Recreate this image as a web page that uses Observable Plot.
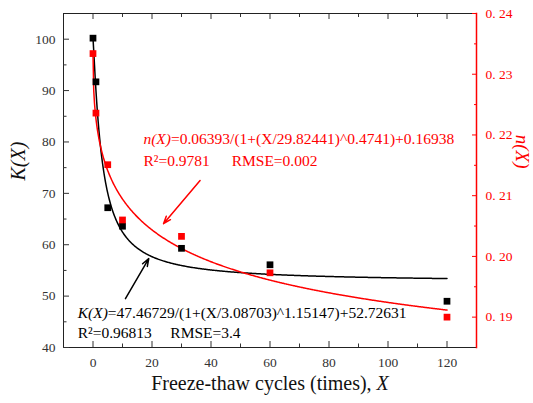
<!DOCTYPE html>
<html><head><meta charset="utf-8">
<script src="https://cdn.jsdelivr.net/npm/d3@7"></script>
<script src="https://cdn.jsdelivr.net/npm/@observablehq/plot@0.6"></script>
<style>
body{margin:0;background:#fff}
svg, svg text, svg g{font-family:"Liberation Serif","Times New Roman",serif !important}
</style>
</head><body><div id="chart"></div>
<script>
// measured points
const cycles  = [0, 1, 5, 10, 30, 60, 120];
const kValues = [100.2, 91.7, 67.2, 63.6, 59.3, 56.1, 49.0];
const nValues = [0.2334, 0.2236, 0.2151, 0.2060, 0.2033, 0.1973, 0.1900];
// fit parameters as printed on the chart: a/(1+(X/b)^c)+d
const kFit = [47.46729, 3.08703, 1.15147, 52.72631];
const nFit = [0.06393, 29.82441, 0.4741, 0.16938];
// axes
const xDomain = [-10, 130];
const kDomain = [40, 105];
const nDomain = [0.185, 0.24];
const xTicks = [0, 20, 40, 60, 80, 100, 120];
const xMinor = [10, 30, 50, 70, 90, 110];
const kTicks = [40, 50, 60, 70, 80, 90, 100];
const kMinor = [45, 55, 65, 75, 85, 95];
const nTicks = [0.19, 0.20, 0.21, 0.22, 0.23, 0.24];
const nMinor = [0.195, 0.205, 0.215, 0.225, 0.235];
// texts
const xLabel = "Freeze-thaw cycles (times), *X*";
const kLabel = "*K(X)*";
const nLabel = "*n(X)*";
const blackNotes = [
  {x: -5.2, y: 45.8, text: "*K(X)*=47.46729/(1+(X/3.08703)^1.15147)+52.72631"},
  {x: -5.2, y: 41.9, text: "R²=0.96813"},
  {x: 26.2, y: 41.9, text: "RMSE=3.4"}
];
const redNotes = [
  {x: 17.1, y: 79.7, text: "*n(X)*=0.06393/(1+(X/29.82441)^0.4741)+0.16938"},
  {x: 17.1, y: 75.4, text: "R²=0.9781"},
  {x: 47.0, y: 75.4, text: "RMSE=0.002"}
];
const blackArrow = [{x1: 11.0, y1: 49.5, x2: 18.9, y2: 57.3}];
const redArrow = [{x1: 36.3, y1: 72.5, x2: 23.9, y2: 64.1}];

const nToK = d3.scaleLinear(nDomain, kDomain);
const points = cycles.map((x, i) => ({x, k: kValues[i], n: nValues[i]}));
const fit = (p, x) => p[0] / (1 + Math.pow(x / p[1], p[2])) + p[3];
const curve = d3.range(0, 120.001, 0.25).map(x => ({x, k: fit(kFit, x), n: fit(nFit, x)}));
const fmtN = v => d3.format(".2f")(v).replace(".", ". ");

const plot = Plot.plot({
  width: 533, height: 403,
  marginLeft: 63, marginRight: 57, marginTop: 13, marginBottom: 56,
  x: {domain: xDomain},
  y: {domain: kDomain},
  style: {fontFamily: "'Liberation Serif','Times New Roman',serif", fontSize: "13.5px", background: "#fff", overflow: "visible"},
  marks: [
    Plot.frame({stroke: "#222"}),
    Plot.axisY(kTicks, {tickSize: -6, tickPadding: 14, label: null, color: "#333", fontSize: 13.5}),
    Plot.axisY(kMinor, {tickSize: -3.5, tickFormat: () => "", label: null, color: "#333"}),
    Plot.axisX(xTicks, {tickSize: -6, tickPadding: 16, label: null, color: "#333", fontSize: 13.5}),
    Plot.axisX(xMinor, {tickSize: -3.5, tickFormat: () => "", label: null, color: "#333"}),
    Plot.axisX(xTicks, {anchor: "top", tickSize: -5, tickFormat: () => "", label: null, color: "#333"}),
    Plot.axisX(xMinor, {anchor: "top", tickSize: -3, tickFormat: () => "", label: null, color: "#333"}),
    Plot.axisY(nTicks.map(nToK), {anchor: "right", tickSize: -5, tickPadding: 14, tickFormat: k => fmtN(nToK.invert(k)), label: null, color: "#f00", fontSize: 13.5}),
    Plot.axisY(nMinor.map(nToK), {anchor: "right", tickSize: -3, tickFormat: () => "", label: null, color: "#f00"}),
    Plot.frame({anchor: "right", stroke: "#f00", strokeWidth: 1.5}),
    Plot.line(curve, {x: "x", y: "k", stroke: "#000", strokeWidth: 1.5}),
    Plot.line(curve, {x: "x", y: d => nToK(d.n), stroke: "#f00", strokeWidth: 1.5}),
    Plot.dot(points, {x: "x", y: "k", symbol: "square", r: 3.8, fill: "#000"}),
    Plot.dot(points, {x: "x", y: d => nToK(d.n), symbol: "square", r: 3.8, fill: "#f00"}),
    Plot.arrow(blackArrow, {x1: "x1", y1: "y1", x2: "x2", y2: "y2", stroke: "#000", strokeWidth: 1.5, headLength: 8, headAngle: 40}),
    Plot.arrow(redArrow, {x1: "x1", y1: "y1", x2: "x2", y2: "y2", stroke: "#f00", strokeWidth: 1.5, headLength: 8, headAngle: 40}),
    Plot.text(blackNotes, {x: "x", y: "y", text: "text", textAnchor: "start", lineAnchor: "bottom", fill: "#000", fontSize: 15.5}),
    Plot.text(redNotes, {x: "x", y: "y", text: "text", textAnchor: "start", lineAnchor: "bottom", fill: "#f00", fontSize: 15.5}),
    Plot.text([xLabel], {text: d => d, frameAnchor: "bottom", dy: 42, fontSize: 20, fill: "#111"}),
    Plot.text([kLabel], {text: d => d, frameAnchor: "left", dx: -45, rotate: -90, fontSize: 20, fill: "#111"}),
    Plot.text([nLabel], {text: d => d, frameAnchor: "right", dx: 46, dy: -12, rotate: 90, fontSize: 19, fill: "#f00"})
  ]
});

// italic segments marked with *...*
d3.select(plot).selectAll("text").each(function() {
  const t = this.textContent;
  if (!t.includes("*")) return;
  const parts = t.split("*");
  const sel = d3.select(this);
  sel.text(null);
  parts.forEach((p, i) => {
    if (p) sel.append("tspan").attr("font-style", i % 2 ? "italic" : null).text(p);
  });
});

document.getElementById("chart").appendChild(plot);
</script>
</body></html>
